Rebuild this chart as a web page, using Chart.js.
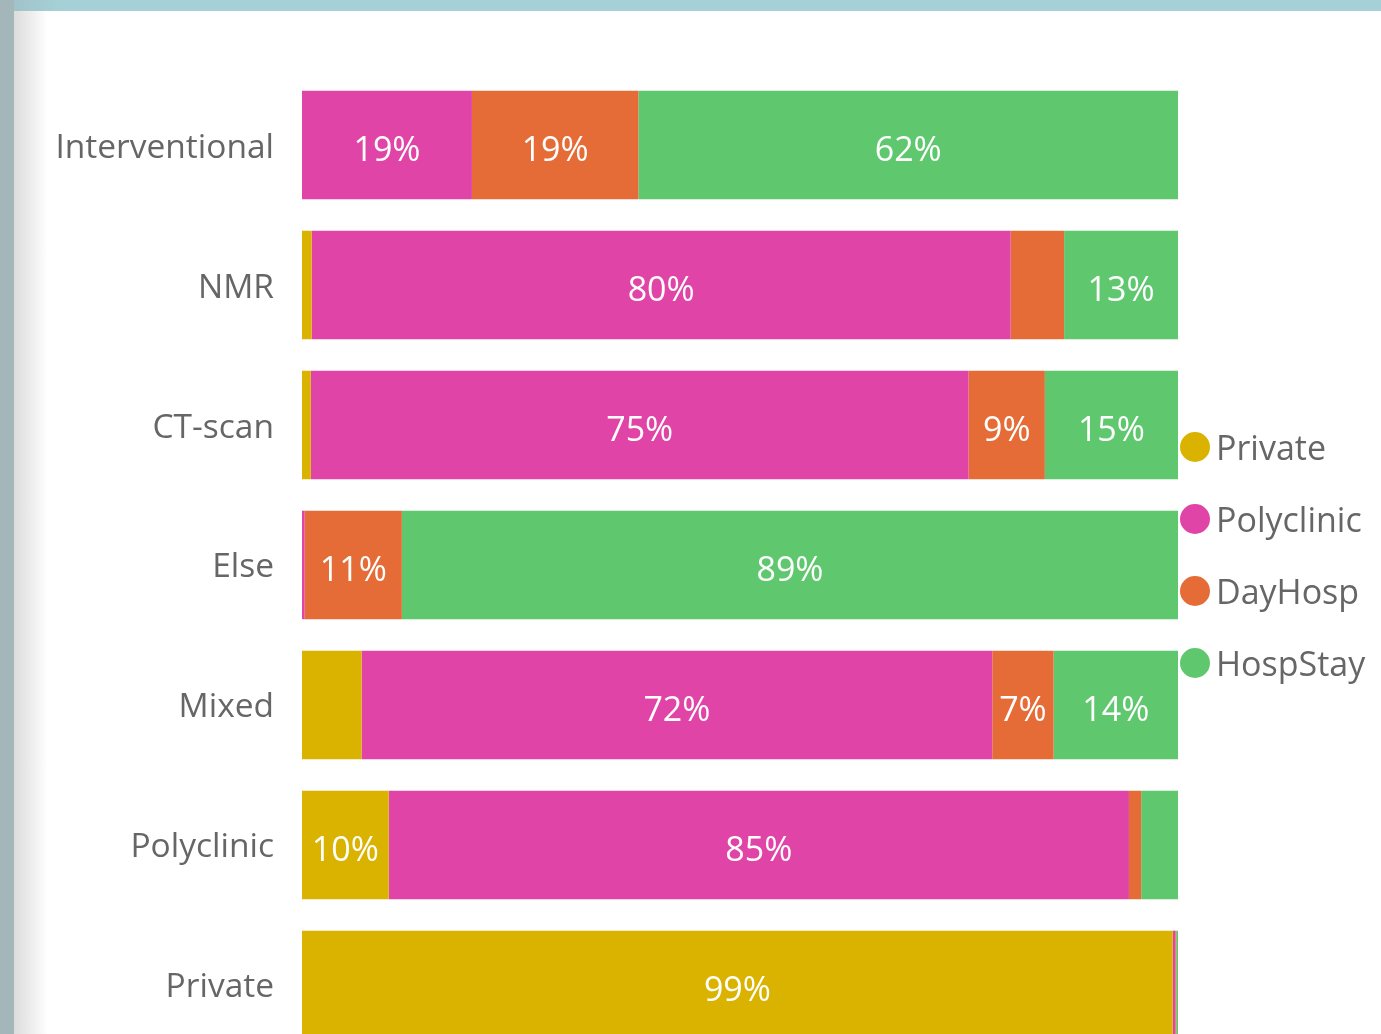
<!DOCTYPE html>
<html>
<head>
<meta charset="utf-8">
<script src="https://cdn.jsdelivr.net/npm/chart.js@4/dist/chart.umd.min.js"></script>
<style>
  html, body { margin: 0; padding: 0; overflow: hidden; background: #fff; width: 1381px; height: 1034px; }
  #topbar { position: absolute; left: 0; top: 0; width: 1381px; height: 11px; background: linear-gradient(to right, #9fbfc5 0px, #a6d0d7 60px, #a6d0d7 100%); }
  #leftbar { position: absolute; left: 0; top: 0; width: 14px; height: 1034px; background: #a3b6ba; }
  #shadow { position: absolute; left: 14px; top: 11px; width: 34px; height: 1023px; background: linear-gradient(to right, #dcdcdc, #ffffff); }
  #bars { position: absolute; left: 0; top: 0; }
  #legend { position: absolute; left: 1180px; top: 432px; font-family: "Open Sans", sans-serif; font-size: 34px; color: #666; }
  .item { height: 72px; display: flex; align-items: flex-start; }
  .dot { width: 30px; height: 30px; border-radius: 50%; margin-right: 6px; flex: none; }
  .item span { line-height: 30px; white-space: nowrap; }
</style>
</head>
<body>
<div id="topbar"></div>
<div id="leftbar"></div>
<div id="shadow"></div>
<canvas id="bars" width="1381" height="1103"></canvas>
<div id="legend"></div>
<script>
const categories = ['Interventional', 'NMR', 'CT-scan', 'Else', 'Mixed', 'Polyclinic', 'Private'];
const seriesNames = ['Private', 'Polyclinic', 'DayHosp', 'HospStay'];
const privateVals = [0, 1.1, 1.0, 0, 6.8, 9.9, 99.4];
const polyclinicVals = [19.4, 79.8, 75.1, 0.3, 72.0, 84.5, 0.3];
const dayHospVals = [19.0, 6.1, 8.7, 11.1, 7.0, 1.4, 0.1];
const hospStayVals = [61.6, 13.0, 15.2, 88.6, 14.2, 4.2, 0.2];
const colors = ['#D9B300', '#E044A7', '#E66C37', '#5FC86E'];

const fontFamily = '"Open Sans", sans-serif';

// white % labels in the middle of each segment, hidden when the segment is too small
const segmentLabels = {
    id: 'segmentLabels',
    afterDatasetsDraw(chart) {
        const c = chart.ctx;
        c.save();
        c.fillStyle = '#ffffff';
        c.font = '34px ' + fontFamily;
        c.textAlign = 'center';
        c.textBaseline = 'middle';
        chart.data.datasets.forEach((ds, i) => {
            const meta = chart.getDatasetMeta(i);
            meta.data.forEach((bar, j) => {
                const v = ds.data[j];
                if (v < 6.9) return;
                c.fillText(Math.round(v) + '%', (bar.x + bar.base) / 2, bar.y + 6);
            });
        });
        c.restore();
    }
};

const allVals = [privateVals, polyclinicVals, dayHospVals, hospStayVals];

const chart = new Chart(document.getElementById('bars'), {
    type: 'bar',
    data: {
        labels: categories,
        datasets: seriesNames.map((name, i) => ({
            label: name,
            data: allVals[i],
            backgroundColor: colors[i],
            borderWidth: 0,
            categoryPercentage: 1,
            barPercentage: 0.775
        }))
    },
    options: {
        indexAxis: 'y',
        responsive: false,
        animation: false,
        layout: { padding: { top: 75, right: 203, bottom: 5, left: 0 } },
        scales: {
            x: { stacked: true, min: 0, max: 100, display: false },
            y: {
                stacked: true,
                grid: { display: false, drawTicks: false },
                border: { display: false },
                ticks: { color: '#666666', padding: 28, labelOffset: 3, font: { family: fontFamily, size: 33.5 } },
                afterFit(scale) { scale.width = 302; }
            }
        },
        plugins: {
            legend: { display: false },
            tooltip: { enabled: false }
        }
    },
    plugins: [segmentLabels]
});

const legend = document.getElementById('legend');
seriesNames.forEach((name, i) => {
    const item = document.createElement('div');
    item.className = 'item';
    item.innerHTML = '<div class="dot" style="background:' + colors[i] + '"></div><span>' + name + '</span>';
    legend.appendChild(item);
});
</script>
</body>
</html>
